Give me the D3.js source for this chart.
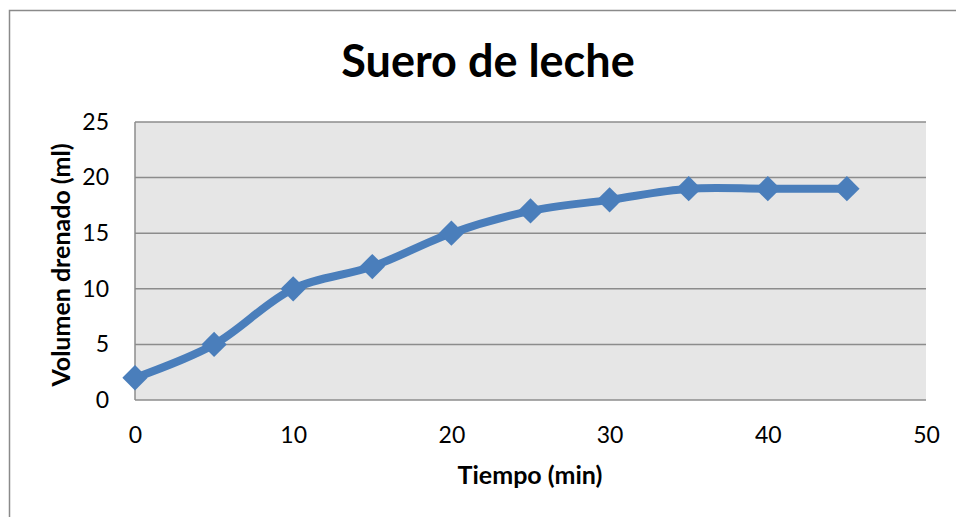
<!DOCTYPE html>
<html>
<head>
<meta charset="utf-8">
<script src="https://cdn.jsdelivr.net/npm/d3@7"></script>
<style>
  html, body { margin: 0; padding: 0; background: #fff; }
  svg { display: block; }
  text { font-family: Lato, "Open Sans", sans-serif; fill: #000; }
</style>
</head>
<body>
<svg id="chart" width="956" height="517"></svg>
<script>
const tiempo = [0, 5, 10, 15, 20, 25, 30, 35, 40, 45];
const volumen = [2, 5, 10, 12, 15, 17, 18, 19, 19, 19];
const xTicks = [0, 10, 20, 30, 40, 50];
const yTicks = [0, 5, 10, 15, 20, 25];
const title = "Suero de leche";
const xLabel = "Tiempo (min)";
const yLabel = "Volumen drenado (ml)";

const svg = d3.select("#chart");
const W = 956, H = 517;
const m = { left: 135, right: 926, top: 122, bottom: 400 };

svg.append("rect").attr("x", 9.5).attr("y", 10.5).attr("width", W + 10).attr("height", H + 10)
  .attr("fill", "#fff").attr("stroke", "#8a8a8a").attr("stroke-width", 1.5);

const x = d3.scaleLinear().domain([0, 50]).range([m.left, m.right]);
const y = d3.scaleLinear().domain([0, 25]).range([m.bottom, m.top]);

svg.append("rect").attr("x", m.left).attr("y", m.top)
  .attr("width", m.right - m.left).attr("height", m.bottom - m.top)
  .attr("fill", "#e6e6e6");

svg.append("g").selectAll("line").data(yTicks).join("line")
  .attr("x1", m.left).attr("x2", m.right)
  .attr("y1", d => y(d)).attr("y2", d => y(d))
  .attr("stroke", "#8c8c8c").attr("stroke-width", 1.5);

svg.append("line").attr("x1", m.left).attr("x2", m.left).attr("y1", m.top).attr("y2", m.bottom)
  .attr("stroke", "#8c8c8c").attr("stroke-width", 1.5);

const yAxis = svg.append("g").attr("transform", `translate(${m.left},0)`)
  .call(d3.axisLeft(y).tickValues(yTicks).tickSize(0).tickPadding(26));
yAxis.select(".domain").remove();
yAxis.selectAll("text").attr("font-size", 23).attr("font-family", "Lato, sans-serif").attr("fill", "#000");

const xAxis = svg.append("g").attr("transform", `translate(0,${m.bottom})`)
  .call(d3.axisBottom(x).tickValues(xTicks).tickSize(0).tickPadding(27));
xAxis.select(".domain").remove();
xAxis.selectAll("text").attr("font-size", 23).attr("font-family", "Lato, sans-serif").attr("fill", "#000");

const pts = tiempo.map((t, i) => [t, volumen[i]]);
const line = d3.line().x(d => x(d[0])).y(d => y(d[1])).curve(d3.curveCatmullRom.alpha(0.5));
svg.append("path").datum(pts).attr("d", line)
  .attr("fill", "none").attr("stroke", "#4a7ebb").attr("stroke-width", 8)
  .attr("stroke-linejoin", "round").attr("stroke-linecap", "round");

const sym = d3.symbol().type(d3.symbolSquare).size(320);
svg.append("g").selectAll("path").data(pts).join("path")
  .attr("d", sym)
  .attr("transform", d => `translate(${x(d[0])},${y(d[1])}) rotate(45)`)
  .attr("fill", "#4a7ebb");

svg.append("text").attr("x", 488).attr("y", 77).attr("text-anchor", "middle")
  .attr("font-size", 45).attr("font-weight", "bold").text(title);

svg.append("text").attr("x", 530).attr("y", 484).attr("text-anchor", "middle")
  .attr("font-size", 25).attr("font-weight", "bold").text(xLabel);

svg.append("text").attr("transform", "translate(70,265) rotate(-90)").attr("text-anchor", "middle")
  .attr("font-size", 25).attr("font-weight", "bold").text(yLabel);
</script>
</body>
</html>
